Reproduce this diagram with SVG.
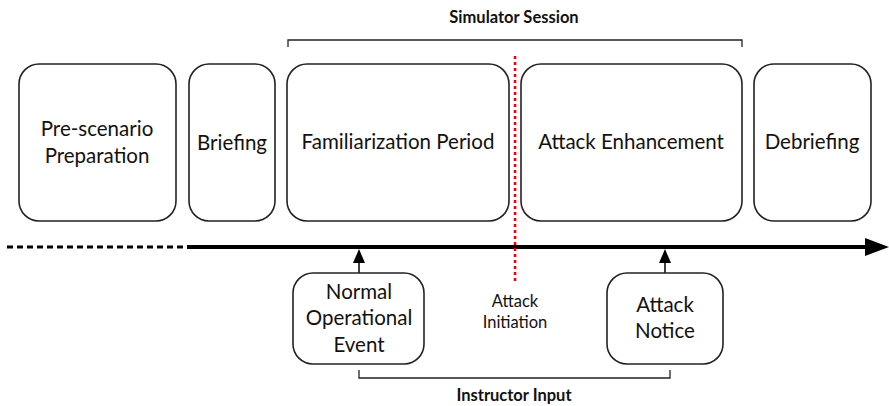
<svg xmlns="http://www.w3.org/2000/svg" width="889" height="406" viewBox="0 0 889 406">
<defs>
<style>
.box{fill:#fff;stroke:#222;stroke-width:1.6}
.t{font-family:Lato,"Open Sans",sans-serif;font-size:20.5px;fill:#111;text-anchor:middle}
.s{font-family:Lato,"Open Sans",sans-serif;font-size:16.5px;fill:#111;text-anchor:middle}
.b{font-family:Lato,"Open Sans",sans-serif;font-size:16.5px;font-weight:bold;fill:#111;text-anchor:middle}
.br{fill:none;stroke:#222;stroke-width:1.3}
</style>
</defs>
<rect width="889" height="406" fill="#fff"/>
<g id="connectors">
<line x1="7" y1="247" x2="187" y2="247" stroke="#000" stroke-width="3" stroke-dasharray="6,4"/>
<line x1="187" y1="247" x2="868" y2="247" stroke="#000" stroke-width="4"/>
<path d="M865,238 L889,247 L865,256 Z" fill="#000"/>
<line x1="515" y1="56" x2="515" y2="283" stroke="#e00" stroke-width="2.5" stroke-dasharray="3,3"/>
<line x1="359" y1="273" x2="359" y2="262" stroke="#000" stroke-width="1.5"/>
<path d="M353,263 L359,249 L365,263 Z" fill="#000"/>
<line x1="665" y1="273" x2="665" y2="262" stroke="#000" stroke-width="1.5"/>
<path d="M659,263 L665,249 L671,263 Z" fill="#000"/>
<path class="br" d="M288,47 V40 H742 V47"/>
<path class="br" d="M359,370 V378 H670 V370"/>
</g>
<g id="simulator-session"><text class="b" x="514" y="23">Simulator Session</text></g>
<g id="pre-scenario">
<rect class="box" x="19" y="64" width="157" height="157" rx="20"/>
<text class="t" x="97" y="136">Pre-scenario</text>
<text class="t" x="97" y="163">Preparation</text>
</g>
<g id="briefing">
<rect class="box" x="189" y="64" width="86" height="157" rx="20"/>
<text class="t" x="232" y="150">Briefing</text>
</g>
<g id="familiarization">
<rect class="box" x="287" y="64" width="222" height="157" rx="20"/>
<text class="t" x="398" y="149">Familiarization Period</text>
</g>
<g id="attack-enhancement">
<rect class="box" x="521" y="64" width="221" height="157" rx="20"/>
<text class="t" x="631" y="149">Attack Enhancement</text>
</g>
<g id="debriefing">
<rect class="box" x="754" y="64" width="117" height="157" rx="20"/>
<text class="t" x="812" y="149">Debriefing</text>
</g>
<g id="normal-event">
<rect class="box" x="293" y="273" width="131" height="91" rx="20"/>
<text class="t" x="359" y="299">Normal</text>
<text class="t" x="359" y="325">Operational</text>
<text class="t" x="359" y="352">Event</text>
</g>
<g id="attack-initiation">
<text class="s" x="515" y="307">Attack</text>
<text class="s" x="515" y="328">Initiation</text>
</g>
<g id="attack-notice">
<rect class="box" x="607" y="273" width="116" height="91" rx="20"/>
<text class="t" x="665" y="312">Attack</text>
<text class="t" x="665" y="338">Notice</text>
</g>
<g id="instructor-input"><text class="b" x="514" y="401">Instructor Input</text></g>
</svg>
